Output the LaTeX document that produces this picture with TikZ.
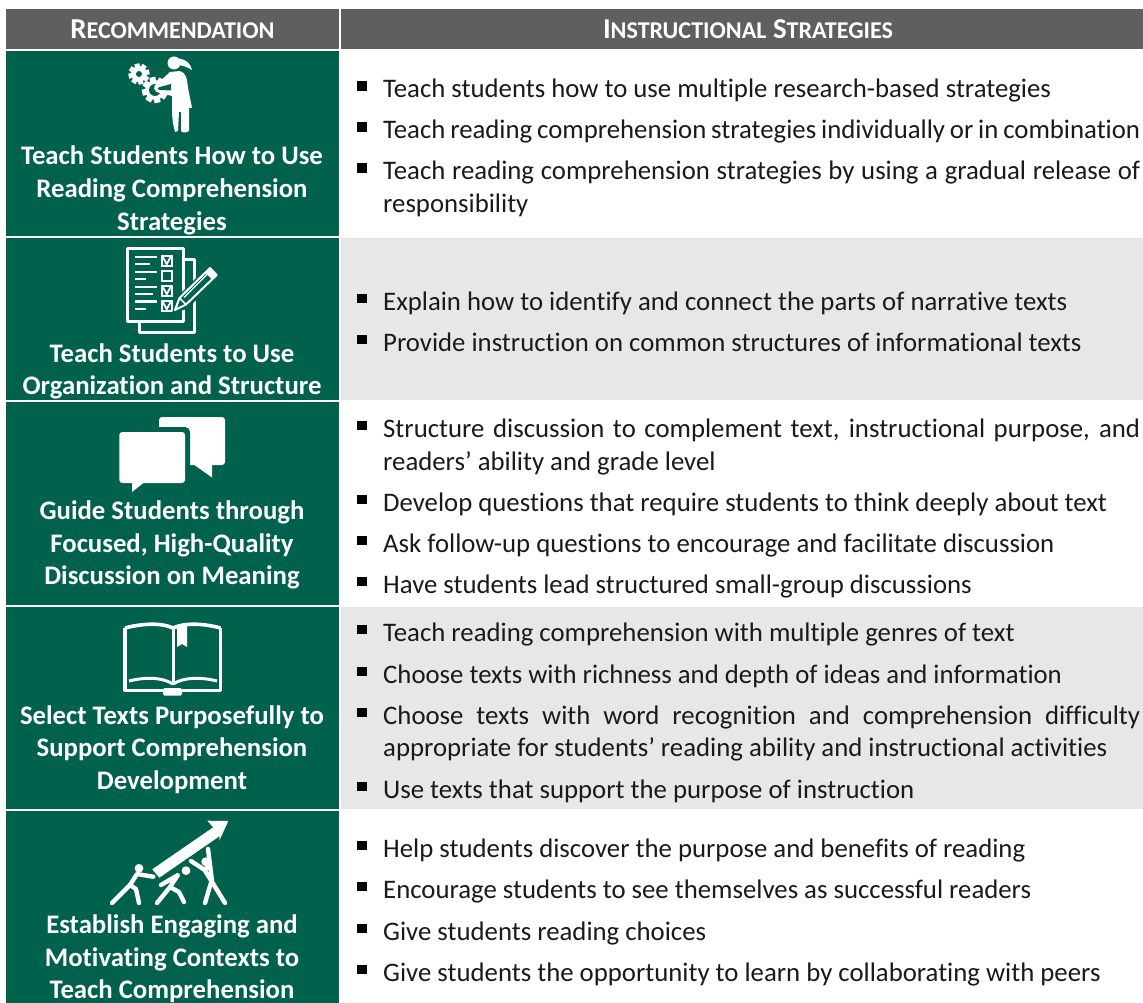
\documentclass[tikz,border=0pt]{standalone}
\usepackage{fontspec}
\setmainfont[Ligatures=NoCommon]{Carlito}
\definecolor{gr}{HTML}{00624C}
\definecolor{hd}{HTML}{5F5F5F}
\definecolor{lg}{HTML}{E7E7E7}
\definecolor{tx}{HTML}{1A1A1A}
\tikzset{
 cell/.style={fill=#1,draw=none},
 itemtext/.style={anchor=base west,inner sep=0pt,text=tx,font=\fontsize{26.77}{30}\selectfont},
 lefttext/.style={anchor=base,inner sep=0pt,text=white,font=\fontsize{26.77}{30}\selectfont\bfseries},
 headtext/.style={anchor=base,inner sep=0pt,text=white,font=\fontsize{28.8}{30}\selectfont\bfseries},
 ic/.style={draw=white,line width=#1,fill=none,line join=round},
 ic/.default=3pt,
 lim/.style={draw=white,line width=4.4pt,line cap=round,line join=round,fill=none},
}
\newcommand{\itm}[3]{\fill[black] (357,#2-15.5) rectangle (366.5,#2-6);\node[itemtext] (#1) at (383,#2+1) {#3};}
\newcommand{\just}[1]{\makebox[757pt][s]{#1}}
\newcommand{\lbl}[3]{\node[lefttext] (#1) at (172,#2+1) {#3};}
\newcommand{\smc}[1]{{\fontsize{24.1}{26}\selectfont #1}}
\newcommand{\gearic}[4]{% x y outer hole
 \fill[white] (#1,#2) circle (#3*0.76);
 \foreach \a in {0,45,...,315}{\fill[white,shift={(#1,#2)},rotate=\a+12] (-#3*0.24,0) rectangle (#3*0.24,#3);}
 \fill[gr] (#1,#2) circle (#4);}
\begin{document}
\begin{tikzpicture}[x=1pt,y=-1pt]
\useasboundingbox (0,0) rectangle (1143,1003);
\fill[white] (0,0) rectangle (1143,1003);
% header
\fill[cell=hd] (6,9) rectangle (339,49);
\fill[cell=hd] (341,9) rectangle (1143,49);
% rows
\fill[cell=gr] (6,51) rectangle (339,236);
\fill[cell=gr] (6,238) rectangle (339,400);
\fill[cell=gr] (6,402) rectangle (339,605);
\fill[cell=gr] (6,607) rectangle (339,809);
\fill[cell=gr] (6,811) rectangle (339,1003);
\fill[cell=lg] (341,238) rectangle (1143,400);
\fill[cell=lg] (341,607) rectangle (1143,809);
% header text
\node[headtext] (h1) at (172.5,39) {R\smc{ECOMMENDATION}};
\node[headtext] (h2) at (748,39) {I\smc{NSTRUCTIONAL} S\smc{TRATEGIES}};
% left labels
\lbl{a1}{164}{Teach Students How to Use}
\lbl{a2}{197}{Reading Comprehension}
\lbl{a3}{229}{Strategies}
\lbl{b1}{361}{Teach Students to Use}
\lbl{b2}{393}{Organization and Structure}
\lbl{c1}{518}{Guide Students through}
\lbl{c2}{551}{Focused, High-Quality}
\lbl{c3}{583}{Discussion on Meaning}
\lbl{d1}{723}{Select Texts Purposefully to}
\lbl{d2}{755}{Support Comprehension}
\lbl{d3}{788}{Development}
\lbl{e1}{932}{Establish Engaging and}
\lbl{e2}{965}{Motivating Contexts to}
\lbl{e3}{997}{Teach Comprehension}
% right items
\itm{r1}{97}{Teach students how to use multiple research-based strategies}
\itm{r2}{138}{\just{Teach reading comprehension strategies individually or in combination}}
\itm{r3}{179}{\just{Teach reading comprehension strategies by using a gradual release of}}
\node[itemtext] (r3b) at (383,213) {responsibility};
\itm{r4}{309}{Explain how to identify and connect the parts of narrative texts}
\itm{r5}{350}{Provide instruction on common structures of informational texts}
\itm{r6}{436}{\just{Structure discussion to complement text, instructional purpose, and}}
\node[itemtext] (r6b) at (383,470) {readers’ ability and grade level};
\itm{r7}{510}{Develop questions that require students to think deeply about text}
\itm{r8}{551}{Ask follow-up questions to encourage and facilitate discussion}
\itm{r9}{592}{Have students lead structured small-group discussions}
\itm{r10}{640}{Teach reading comprehension with multiple genres of text}
\itm{r11}{682}{Choose texts with richness and depth of ideas and information}
\itm{r12}{723}{\just{Choose texts with word recognition and comprehension difficulty}}
\node[itemtext] (r12b) at (383,756) {appropriate for students’ reading ability and instructional activities};
\itm{r13}{797}{Use texts that support the purpose of instruction}
\itm{r14}{856}{Help students discover the purpose and benefits of reading}
\itm{r15}{897}{Encourage students to see themselves as successful readers}
\itm{r16}{939}{Give students reading choices}
\itm{r17}{980}{Give students the opportunity to learn by collaborating with peers}
% icon 1: gears and woman
\gearic{139}{74}{10.5}{3}
\gearic{155}{90}{13}{6}
\fill[white] (174,63) circle (6.5);
\fill[white] (179,58.5) .. controls (187,60) and (190,63) .. (192,70) .. controls (187,67) and (184,66) .. (179,65) -- cycle;
\fill[white] (170,72) -- (180,71) .. controls (186,73) and (187,78) .. (188,88) -- (192,108) -- (172,108) -- (172,96) -- (160,93) .. controls (153,92) and (152,85) .. (158,83) -- cycle;
\fill[gr] (160,87) .. controls (157,88) and (157,89) .. (160,90) -- (171,90.5) -- (171,84) -- cycle;
\fill[white] (172,108) -- (189,108) -- (189,131) .. controls (187,133) and (182,133) .. (181,131) -- (181,112) -- (179,112) -- (178,131) -- (175,132) .. controls (173,125) and (172,118) .. (172,108) -- cycle;
% icon 2: checklist
\draw[ic] (183.3,259) -- (194.3,259) -- (194.3,332.3) -- (139.3,332.3) -- (139.3,322);
\draw[ic] (127.7,248.3) rectangle (183.3,321.7);
\foreach \y/\xe in {256.7/157,264/149.5,271.7/157,279/146,286.7/157,294/153,301.3/157,309/146}
  \draw[white,line width=2.4pt] (135,\y) -- (\xe,\y);
\foreach \y in {260.7,275.7,290.7,305.7}
  \draw[white,line width=1.8pt] (161.7,\y-5) rectangle (171.7,\y+5);
\foreach \y in {260.7,290.7,305.7}
  \draw[white,line width=1.8pt] (163,\y-3.5) -- (166.7,\y+3.5) -- (170.5,\y-3.5);
\fill[gr] (172,313) -- (178,296) -- (210,264) -- (221,275) -- (187,309) -- cycle;
\draw[ic=2pt] (175,310) -- (179.5,298) -- (210,268) -- (216.7,275) -- (186,304.5) -- cycle;
\draw[white,line width=1.6pt] (179.5,298) -- (186,304.5);
\draw[white,line width=1.2pt] (184,297.5) -- (207,274.5);
\fill[white] (205,272.5) -- (210,268) -- (216.7,275) -- (212,279.5) -- cycle;
% icon 3: speech bubbles
\fill[white,rounded corners=3pt] (159,417) rectangle (225,465);
\fill[white] (193,464) -- (212,477.5) -- (212,464) -- cycle;
\fill[gr,rounded corners=5pt] (115,427) rectangle (190,490);
\fill[white,rounded corners=3pt] (119.3,432) rectangle (185,483);
\fill[white] (132,481) -- (132,492) -- (146,481) -- cycle;
% icon 4: book
\draw[ic=3.6pt] (125,628) .. controls (140,624) and (160,622) .. (173,628) .. controls (186,622) and (206,624) .. (220.5,628);
\draw[ic=3.6pt] (125,628) -- (125,690.5) -- (220.5,690.5) -- (220.5,628);
\draw[ic=3pt] (129,681) .. controls (145,677) and (162,677) .. (173,684);
\draw[ic=3pt] (217,681) .. controls (201,677) and (184,677) .. (173,684);
\draw[ic=3pt] (173,628) -- (173,685);
\fill[white] (177,625) -- (187,625) -- (187,647) -- (182,644) -- (177,647) -- cycle;
\fill[white,rounded corners=1.5pt] (163,688) rectangle (182,695.5);
% icon 5: arrow and people
\fill[white] (152.3,869.3) -- (159.3,877.7) -- (219.8,836) -- (219.3,840.7) -- (228.3,821) -- (207.3,820.7) -- (213.2,827.3) -- cycle;
\fill[white] (139,868.3) circle (4.4);
\fill[white] (186,870.7) circle (4.4);
\fill[white] (205.7,861.7) circle (4.4);
\draw[lim] (153.3,876.7) -- (137,874) -- (130,885) -- (112,903);
\draw[lim] (130,885) -- (136,889) -- (139,903);
\draw[lim] (161,885) -- (178,875) -- (170,887) -- (157,903);
\draw[lim] (170,887) -- (179,892) -- (184,902);
\draw[lim] (191,861) -- (204,869.5) -- (209,867);
\draw[lim] (208,849) -- (212,881);
\draw[lim] (204,869) -- (211.5,881) -- (205,903);
\draw[lim] (211.5,881) -- (225,903);
\end{tikzpicture}
\end{document}
